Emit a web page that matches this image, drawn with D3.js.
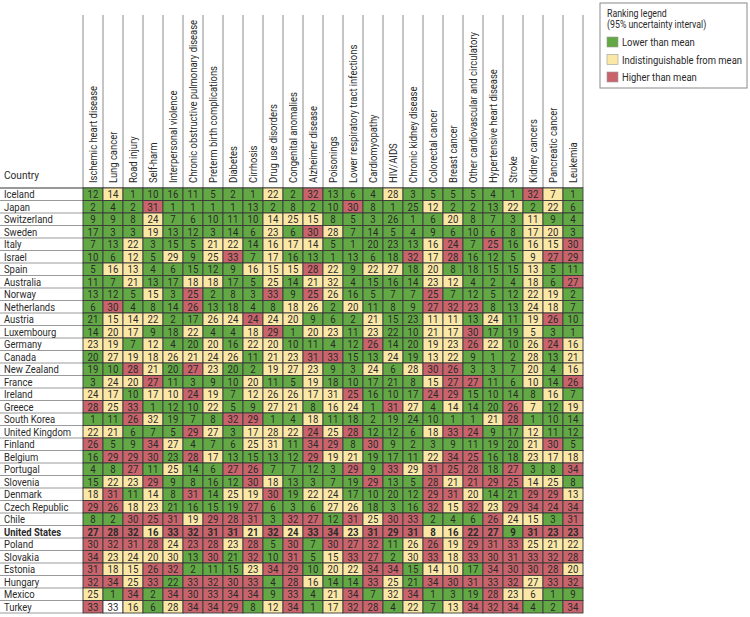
<!DOCTYPE html>
<html>
<head>
<meta charset="utf-8">
<script src="https://cdn.jsdelivr.net/npm/d3@7"></script>
<style>
  body { margin: 0; background: #fff; }
  svg text { font-family: Roboto, "Open Sans", sans-serif; fill: #2a2a2a; }
</style>
</head>
<body>
<div id="chart"></div>
<script>
// Causes of death (columns)
const causes = [
    'Ischemic heart disease', 'Lung cancer', 'Road injury', 'Self-harm',
    'Interpersonal violence', 'Chronic obstructive pulmonary disease',
    'Preterm birth complications', 'Diabetes', 'Cirrhosis', 'Drug use disorders',
    'Congenital anomalies', 'Alzheimer disease', 'Poisonings',
    'Lower respiratory tract infections', 'Cardiomyopathy', 'HIV/AIDS',
    'Chronic kidney disease', 'Colorectal cancer', 'Breast cancer',
    'Other cardiovascular and circulatory', 'Hypertensive heart disease',
    'Stroke', 'Kidney cancers', 'Pancreatic cancer', 'Leukemia'
];

const countries = [
    'Iceland', 'Japan', 'Switzerland', 'Sweden', 'Italy', 'Israel', 'Spain',
    'Australia', 'Norway', 'Netherlands', 'Austria', 'Luxembourg', 'Germany',
    'Canada', 'New Zealand', 'France', 'Ireland', 'Greece', 'South Korea',
    'United Kingdom', 'Finland', 'Belgium', 'Portugal', 'Slovenia', 'Denmark',
    'Czech Republic', 'Chile', 'United States', 'Poland', 'Slovakia', 'Estonia',
    'Hungary', 'Mexico', 'Turkey'
];

// Rank of each country for each cause (row per country, same order as causes)
const ranks = [
    [12,14,1,10,16,11,5,2,1,22,2,32,13,6,4,28,3,5,5,5,4,1,32,7,1],
    [2,4,2,31,1,1,1,1,13,2,8,2,10,30,8,1,25,12,2,2,13,22,2,22,6],
    [9,9,8,24,7,6,10,11,10,14,25,15,8,5,3,26,1,6,20,8,7,3,11,9,4],
    [17,3,3,19,13,12,3,14,6,23,6,30,28,7,14,5,4,9,6,10,6,8,17,20,3],
    [7,13,22,3,15,5,21,22,14,16,17,14,5,1,20,23,13,16,24,7,25,16,16,15,30],
    [10,6,12,5,29,9,25,33,7,17,16,13,1,13,6,18,32,17,28,16,12,5,9,27,29],
    [5,16,13,4,6,15,12,9,16,15,15,28,22,9,22,27,18,20,8,18,15,15,13,5,11],
    [11,7,21,13,17,18,18,17,5,25,14,21,32,4,15,16,14,23,12,4,2,4,18,6,27],
    [13,12,5,15,3,25,2,8,3,33,9,25,26,16,5,7,7,25,7,12,5,12,22,19,2],
    [6,30,4,8,14,26,13,18,4,8,18,26,2,20,11,8,9,27,32,23,8,13,24,18,7],
    [21,15,14,22,2,17,26,24,24,24,20,9,6,2,21,15,23,11,11,13,24,11,19,26,10],
    [14,20,17,9,18,22,4,4,18,29,1,20,23,11,23,22,10,21,17,30,17,19,5,3,1],
    [23,19,7,12,4,20,20,16,22,20,10,11,4,12,26,14,20,19,23,26,22,10,26,24,16],
    [20,27,19,18,26,21,24,26,11,21,23,31,33,15,13,24,19,13,22,9,1,2,28,13,21],
    [19,10,28,21,20,27,23,20,2,19,27,23,9,3,24,6,28,30,26,3,3,7,20,4,16],
    [3,24,20,27,11,3,9,10,20,11,5,19,18,10,17,21,8,15,27,27,11,6,10,14,26],
    [24,17,10,17,10,24,19,7,12,26,26,17,31,25,16,10,17,24,29,15,10,14,8,16,7],
    [28,25,33,1,12,10,22,5,9,27,21,8,16,24,1,31,27,4,14,14,20,26,7,12,19],
    [1,11,26,32,19,7,8,32,29,1,4,18,11,18,2,19,24,10,1,1,21,28,1,10,14],
    [22,21,6,7,5,29,27,3,17,28,22,24,25,28,12,12,6,18,33,24,9,17,12,11,12],
    [26,5,9,34,27,4,7,6,25,31,11,34,29,8,30,9,2,3,9,11,19,20,21,30,5],
    [16,29,29,30,23,28,17,13,15,13,12,29,19,21,19,17,11,22,34,25,16,18,23,17,18],
    [4,8,27,11,25,14,6,27,26,7,7,12,3,29,9,33,29,31,25,28,18,27,3,8,34],
    [15,22,23,29,9,8,16,12,30,18,13,3,7,19,29,13,5,28,21,21,29,25,14,25,8],
    [18,31,11,14,8,31,14,25,19,30,19,22,24,17,10,20,12,29,31,20,14,21,29,29,13],
    [29,26,18,23,21,16,15,19,27,6,3,6,27,26,18,3,16,32,15,32,23,29,34,24,34],
    [8,2,30,25,31,19,29,28,31,3,32,27,12,31,25,30,33,2,4,6,26,24,15,3,31],
    [27,28,32,16,33,32,31,31,21,32,24,33,34,23,31,29,31,8,16,22,27,9,31,23,23],
    [30,32,31,28,24,23,28,23,28,5,30,7,30,27,32,11,26,26,19,29,31,33,25,21,22],
    [34,23,24,20,30,13,30,21,32,10,31,5,15,33,27,2,30,33,18,33,30,31,33,32,28],
    [31,18,15,26,32,2,11,15,23,34,29,10,20,22,34,34,15,14,10,17,34,30,30,28,20],
    [32,34,25,33,22,33,32,30,33,4,28,16,14,14,33,25,21,34,30,31,33,32,27,33,32],
    [25,1,34,2,34,30,33,34,34,9,33,4,21,34,7,32,34,1,3,19,28,23,6,1,9],
    [33,33,16,6,28,34,34,29,8,12,34,1,17,32,28,4,22,7,13,34,32,34,4,2,34]
];

// Ranking class per cell: G lower, Y indistinguishable, R higher, W not classified
const levels = [
    'GYGGGGGGGYGRGGGYGGGGGGRYG',
    'GGGRGGGGGGGGGRGGGYGGGYGYG',
    'GGGYGGGGGYYYGGGGGGYGGGYGG',
    'GGGYGGGGGYGRYGGGGGGGGGYYG',
    'GGYGGGYYGYYYGGGGGYRGRGYYR',
    'GGYGYGYRGYGGGGGGRYRGGGYRR',
    'GYYGGGGGYYYRYGYYGYGGGGYGG',
    'GGYGGYYGGYGYYGGGGYYGGGYGR',
    'GGGYGRGGGRGRYGGGGRGGGGYYG',
    'GRGGGRGGGGYYGYGGGRRRGGYYG',
    'GYYYGGYYRYYGGGYGGYYGYGYRG',
    'GYYGGYGGYRGYYGYGGYYRGGYGG',
    'YYGYGGYGYYGGGGRGGYYRYGYRY',
    'GYYYYYYYGYYRRGGYGYYGGGYGY',
    'GGRYGRYGGYYYGGYGYRRGGGYGY',
    'GYYRGGGGYGGYGGGGGYRRGGYGR',
    'YYGYYRYGYYYYYRGGGRRGGGGYG',
    'RYRGGGYGGYYGYYGRYGYGGRYGY',
    'GGRYGGGRRGGYGGGGGGGGYRGGG',
    'YYGGGRYGYYYRYRGGGYRRGGYGG',
    'RGGRYGGGYYGRRGRGGGGGGGYRG',
    'GRRRGRYGGGGRYYGGGYRRGGYYY',
    'GGRGYGGRRGGGGRGRYRRRGRGGR',
    'GYYRGGGGRYGGGGRGGRYRRRYYG',
    'YRGYGRGYYRGYYGGGGRRYGGRRY',
    'RRYYGGGGRGGGYYGGGRYRYRRRR',
    'GGRRRYRRRGRRGRYRRGGGRYYGR',
    'RRRYRRRRYRYRRYRRRYYRRGRRR',
    'RRRRYRRYRGRGRRRGYRYRRRYYY',
    'RYYYYGRGRGRGYRRGYRYRRRRRR',
    'RYYRRGGGYRRGYYRRGYYGRRRRY',
    'RRYRGRRRRGRYGGRYGRRRRRYRR',
    'YGRGRRRRRGRGYRGYRGGGRYYGG',
    'RWYGYRRRGYRGYRRGYGYRRRGGR'
];

const legendItems = [
    { key: 'G', label: 'Lower than mean' },
    { key: 'Y', label: 'Indistinguishable from mean' },
    { key: 'R', label: 'Higher than mean' }
];

const colors = { G: '#62a945', Y: '#fce8a6', R: '#c9646c', W: '#ffffff' };

const chart = { width: 750, height: 617, left: 83, right: 583, top: 188, bottom: 613, headTop: 15 };

const svg = d3.select('#chart')
    .append('svg')
    .attr('width', chart.width)
    .attr('height', chart.height);

const xScale = d3.scaleBand()
    .domain(causes)
    .range([chart.left, chart.right]);

const yScale = d3.scaleBand()
    .domain(countries)
    .range([chart.top, chart.bottom]);

// flat list of cells
const cells = [];
countries.forEach((c, i) => {
    causes.forEach((k, j) => {
        cells.push({ country: c, cause: k, rank: ranks[i][j], level: levels[i][j] });
    });
});

// Header: column separators and rotated labels
const head = svg.append('g').classed('header', true);

head.selectAll('line')
    .data(causes.concat(['end']))
    .enter()
    .append('line')
    .attr('x1', (d, i) => chart.left + i * xScale.bandwidth())
    .attr('x2', (d, i) => chart.left + i * xScale.bandwidth())
    .attr('y1', chart.headTop)
    .attr('y2', chart.top)
    .attr('stroke', '#8a8a8a')
    .attr('stroke-width', 1);

// the source font is a condensed gothic, so squeeze the text a bit
head.selectAll('text')
    .data(causes)
    .enter()
    .append('text')
    .attr('transform', d => `translate(${xScale(d) + xScale.bandwidth() / 2 + 3.5}, ${chart.top - 5}) rotate(-90) scale(0.9, 1)`)
    .attr('font-size', 10.5)
    .text(d => d);

svg.append('text')
    .attr('transform', `translate(4, ${chart.top - 9}) scale(0.88, 1)`)
    .attr('font-size', 11.5)
    .text('Country');

// Country labels with thin row rules
const rows = svg.append('g').classed('rows', true);

rows.selectAll('line')
    .data(countries)
    .enter()
    .append('line')
    .attr('x1', 0)
    .attr('x2', chart.left)
    .attr('y1', d => yScale(d) + yScale.bandwidth())
    .attr('y2', d => yScale(d) + yScale.bandwidth())
    .attr('stroke', '#9a9a9a')
    .attr('stroke-width', 1);

rows.selectAll('text')
    .data(countries)
    .enter()
    .append('text')
    .attr('transform', d => `translate(4, ${yScale(d) + yScale.bandwidth() / 2 + 3.8}) scale(0.9, 1)`)
    .attr('font-size', 10.5)
    .attr('font-weight', d => d === 'United States' ? 'bold' : null)
    .text(d => d);

svg.append('line')
    .attr('x1', 0)
    .attr('x2', chart.right)
    .attr('y1', chart.top)
    .attr('y2', chart.top)
    .attr('stroke', '#333');

// Cells
const grid = svg.append('g').classed('cells', true);

grid.selectAll('rect')
    .data(cells)
    .enter()
    .append('rect')
    .attr('x', d => xScale(d.cause))
    .attr('y', d => yScale(d.country))
    .attr('width', xScale.bandwidth())
    .attr('height', yScale.bandwidth())
    .attr('fill', d => colors[d.level])
    .attr('stroke', '#3a3a3a')
    .attr('stroke-width', 0.9);

grid.selectAll('text')
    .data(cells)
    .enter()
    .append('text')
    .attr('transform', d => `translate(${xScale(d.cause) + xScale.bandwidth() / 2}, ${yScale(d.country) + yScale.bandwidth() / 2 + 3.8}) scale(0.92, 1)`)
    .attr('text-anchor', 'middle')
    .attr('font-size', 10.5)
    .attr('font-weight', d => d.country === 'United States' ? 'bold' : null)
    .text(d => d.rank);

// Legend
const legend = svg.append('g').classed('legend', true);

legend.append('rect')
    .attr('x', 600)
    .attr('y', 3)
    .attr('width', 147)
    .attr('height', 85)
    .attr('fill', '#fff')
    .attr('stroke', '#8a8a8a');

legend.append('text')
    .attr('transform', 'translate(607, 17) scale(0.88, 1)')
    .attr('font-size', 10)
    .text('Ranking legend');

legend.append('text')
    .attr('transform', 'translate(607, 28) scale(0.88, 1)')
    .attr('font-size', 10)
    .text('(95% uncertainty interval)');

const items = legend.selectAll('g.item')
    .data(legendItems)
    .enter()
    .append('g')
    .classed('item', true)
    .attr('transform', (d, i) => `translate(607, ${37 + i * 17.5})`);

items.append('rect')
    .attr('width', 11)
    .attr('height', 10)
    .attr('fill', d => colors[d.key])
    .attr('stroke', '#999')
    .attr('stroke-width', 0.6);

items.append('text')
    .attr('transform', 'translate(15, 9) scale(0.86, 1)')
    .attr('font-size', 11)
    .text(d => d.label);
</script>
</body>
</html>
